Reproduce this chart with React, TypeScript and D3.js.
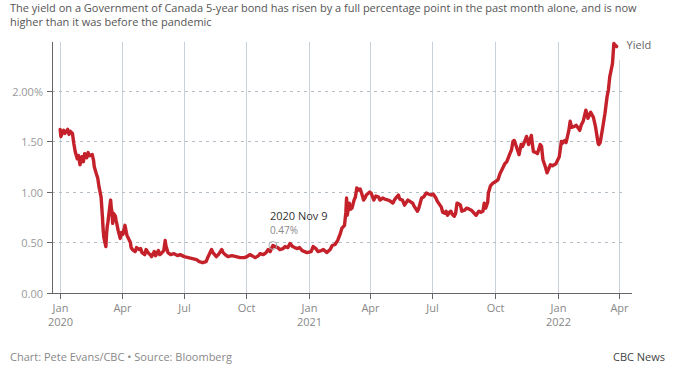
import React from 'react';
import * as d3 from 'd3';

const titleLines = [
  'The yield on a Government of Canada 5-year bond has risen by a full percentage point in the past month alone, and is now',
  'higher than it was before the pandemic',
];

const dates = [
  '2020-01-02', '2020-01-03', '2020-01-07', '2020-01-09', '2020-01-13', '2020-01-15', '2020-01-17', '2020-01-20',
  '2020-01-22', '2020-01-24', '2020-01-27', '2020-01-29', '2020-01-31', '2020-02-03', '2020-02-05', '2020-02-07',
  '2020-02-10', '2020-02-12', '2020-02-14', '2020-02-18', '2020-02-20', '2020-02-21', '2020-02-24', '2020-02-26',
  '2020-02-28', '2020-03-02', '2020-03-03', '2020-03-04', '2020-03-05', '2020-03-06', '2020-03-09', '2020-03-10',
  '2020-03-11', '2020-03-12', '2020-03-16', '2020-03-17', '2020-03-18', '2020-03-19', '2020-03-20', '2020-03-23',
  '2020-03-24', '2020-03-27', '2020-03-30', '2020-04-01', '2020-04-03', '2020-04-06', '2020-04-08', '2020-04-09',
  '2020-04-14', '2020-04-15', '2020-04-17', '2020-04-21', '2020-04-23', '2020-04-27', '2020-04-29', '2020-05-01',
  '2020-05-05', '2020-05-07', '2020-05-11', '2020-05-13', '2020-05-15', '2020-05-19', '2020-05-21', '2020-05-25',
  '2020-05-27', '2020-05-29', '2020-06-02', '2020-06-04', '2020-06-05', '2020-06-08', '2020-06-12', '2020-06-17',
  '2020-06-22', '2020-06-26', '2020-07-02', '2020-07-08', '2020-07-14', '2020-07-20', '2020-07-24', '2020-07-29',
  '2020-08-03', '2020-08-06', '2020-08-11', '2020-08-13', '2020-08-18', '2020-08-21', '2020-08-26', '2020-08-28',
  '2020-08-31', '2020-09-04', '2020-09-10', '2020-09-16', '2020-09-22', '2020-09-28', '2020-10-02', '2020-10-06',
  '2020-10-09', '2020-10-14', '2020-10-19', '2020-10-21', '2020-10-26', '2020-10-30', '2020-11-02', '2020-11-05',
  '2020-11-09', '2020-11-12', '2020-11-16', '2020-11-19', '2020-11-24', '2020-11-27', '2020-12-01', '2020-12-04',
  '2020-12-08', '2020-12-11', '2020-12-15', '2020-12-18', '2020-12-22', '2020-12-29', '2021-01-04', '2021-01-07',
  '2021-01-11', '2021-01-14', '2021-01-19', '2021-01-22', '2021-01-27', '2021-02-01', '2021-02-04', '2021-02-08',
  '2021-02-10', '2021-02-12', '2021-02-16', '2021-02-18', '2021-02-22', '2021-02-24', '2021-02-25', '2021-02-26',
  '2021-03-01', '2021-03-03', '2021-03-05', '2021-03-08', '2021-03-10', '2021-03-12', '2021-03-15', '2021-03-17',
  '2021-03-19', '2021-03-22', '2021-03-24', '2021-03-26', '2021-03-31', '2021-04-02', '2021-04-06', '2021-04-09',
  '2021-04-13', '2021-04-15', '2021-04-19', '2021-04-22', '2021-04-27', '2021-04-30', '2021-05-04', '2021-05-07',
  '2021-05-12', '2021-05-14', '2021-05-18', '2021-05-21', '2021-05-26', '2021-05-28', '2021-06-02', '2021-06-04',
  '2021-06-09', '2021-06-11', '2021-06-15', '2021-06-18', '2021-06-22', '2021-06-25', '2021-06-29', '2021-07-02',
  '2021-07-06', '2021-07-08', '2021-07-12', '2021-07-14', '2021-07-16', '2021-07-19', '2021-07-21', '2021-07-23',
  '2021-07-26', '2021-07-28', '2021-07-30', '2021-08-02', '2021-08-04', '2021-08-06', '2021-08-09', '2021-08-11',
  '2021-08-13', '2021-08-17', '2021-08-20', '2021-08-24', '2021-08-27', '2021-08-31', '2021-09-03', '2021-09-07',
  '2021-09-10', '2021-09-13', '2021-09-15', '2021-09-17', '2021-09-20', '2021-09-21', '2021-09-24', '2021-09-28',
  '2021-10-01', '2021-10-05', '2021-10-08', '2021-10-13', '2021-10-15', '2021-10-18', '2021-10-22', '2021-10-25',
  '2021-10-27', '2021-10-29', '2021-11-01', '2021-11-05', '2021-11-08', '2021-11-10', '2021-11-12', '2021-11-16',
  '2021-11-19', '2021-11-23', '2021-11-26', '2021-11-30', '2021-12-02', '2021-12-06', '2021-12-08', '2021-12-10',
  '2021-12-14', '2021-12-16', '2021-12-21', '2021-12-24', '2021-12-29', '2022-01-03', '2022-01-06', '2022-01-07',
  '2022-01-11', '2022-01-13', '2022-01-17', '2022-01-19', '2022-01-21', '2022-01-25', '2022-01-28', '2022-02-02',
  '2022-02-04', '2022-02-07', '2022-02-11', '2022-02-14', '2022-02-18', '2022-02-22', '2022-02-25', '2022-03-01',
  '2022-03-02', '2022-03-04', '2022-03-08', '2022-03-11', '2022-03-14', '2022-03-16', '2022-03-18', '2022-03-22',
  '2022-03-24', '2022-03-25', '2022-03-28',
];

const yields = [
  1.62, 1.55, 1.61, 1.58, 1.62, 1.57, 1.6, 1.58,
  1.48, 1.4, 1.33, 1.36, 1.27, 1.35, 1.3, 1.38,
  1.34, 1.39, 1.36, 1.37, 1.31, 1.25, 1.18, 1.14,
  1.05, 0.95, 0.85, 0.75, 0.63, 0.55, 0.46, 0.58,
  0.66, 0.7, 0.92, 0.84, 0.8, 0.69, 0.79, 0.76,
  0.72, 0.62, 0.54, 0.6, 0.58, 0.67, 0.6, 0.57,
  0.5, 0.45, 0.43, 0.41, 0.45, 0.43, 0.44, 0.4,
  0.38, 0.43, 0.39, 0.38, 0.36, 0.41, 0.37, 0.42,
  0.38, 0.39, 0.42, 0.52, 0.47, 0.4, 0.38, 0.39,
  0.37, 0.38, 0.36, 0.35, 0.34, 0.33, 0.31, 0.3,
  0.31, 0.36, 0.43, 0.4, 0.36, 0.38, 0.43, 0.4,
  0.38, 0.36, 0.37, 0.36, 0.35, 0.35, 0.36, 0.38,
  0.37, 0.35, 0.37, 0.39, 0.38, 0.4, 0.43, 0.41,
  0.47, 0.46, 0.45, 0.43, 0.44, 0.46, 0.45, 0.49,
  0.46, 0.45, 0.44, 0.45, 0.42, 0.4, 0.41, 0.46,
  0.44, 0.41, 0.42, 0.43, 0.4, 0.43, 0.47, 0.48,
  0.5, 0.52, 0.59, 0.64, 0.67, 0.8, 0.94, 0.77,
  0.89, 0.83, 0.84, 0.92, 0.95, 1.04, 1.02, 1.03,
  0.99, 0.92, 0.94, 0.97, 1.0, 0.99, 0.92, 0.96,
  0.95, 0.92, 0.94, 0.93, 0.92, 0.91, 0.89, 0.93,
  0.97, 0.93, 0.92, 0.87, 0.92, 0.91, 0.89, 0.86,
  0.81, 0.84, 0.94, 0.95, 0.99, 0.98, 0.97, 0.98,
  0.94, 0.91, 0.87, 0.85, 0.8, 0.79, 0.81, 0.77,
  0.8, 0.81, 0.78, 0.76, 0.79, 0.89, 0.88, 0.87,
  0.81, 0.82, 0.84, 0.83, 0.82, 0.79, 0.77, 0.81,
  0.8, 0.81, 0.89, 0.84, 0.9, 0.99, 1.06, 1.09,
  1.1, 1.12, 1.18, 1.25, 1.28, 1.3, 1.37, 1.42,
  1.5, 1.51, 1.45, 1.37, 1.47, 1.45, 1.48, 1.55,
  1.47, 1.56, 1.4, 1.39, 1.38, 1.47, 1.45, 1.32,
  1.24, 1.19, 1.27, 1.26, 1.28, 1.35, 1.5, 1.48,
  1.51, 1.49, 1.61, 1.7, 1.64, 1.65, 1.66, 1.61,
  1.66, 1.7, 1.81, 1.73, 1.79, 1.74, 1.65, 1.48,
  1.47, 1.49, 1.65, 1.78, 1.94, 2.01, 2.14, 2.27,
  2.47, 2.46, 2.44,
];

const xTicks = ['2020-01-01', '2020-04-01', '2020-07-01', '2020-10-01', '2021-01-01', '2021-04-01', '2021-07-01', '2021-10-01', '2022-01-01', '2022-04-01'];
const yTicks = [0, 0.5, 1, 1.5, 2];

const annotation = { date: '2020-11-09', value: 0.47, title: '2020 Nov 9', label: '0.47%' };

const FONT = '"Open Sans", Roboto, sans-serif';

export default function App() {
  const width = 684;
  const height = 369;
  const parse = d3.utcParse('%Y-%m-%d');
  const data = dates.map((d, i) => ({ date: parse(d) as Date, value: yields[i] }));

  const x = d3.scaleUtc()
    .domain([parse('2020-01-01') as Date, parse('2022-04-01') as Date])
    .range([59.5, 619.3]);
  const y = d3.scaleLinear().domain([0, 2.485]).range([293, 42]);

  const axisLeft = 52;
  const axisRight = 632;
  const gridRight = 625;

  const line = d3.line<{ date: Date; value: number }>()
    .x(d => x(d.date))
    .y(d => y(d.value))
    .curve(d3.curveLinear);

  const monthFmt = d3.utcFormat('%b');
  const yearFmt = d3.utcFormat('%Y');
  const aDate = parse(annotation.date) as Date;
  const last = data[data.length - 1];

  return (
    <svg width={width} height={height} style={{ position: 'absolute', left: 0, top: 0, background: '#fff' }}
      fontFamily={FONT}>
      {titleLines.map((t, i) => (
        <text key={i} x={10} y={12 + i * 14} fontSize={11} fill="#555">{t}</text>
      ))}

      {/* vertical grid + x ticks */}
      {xTicks.map(t => {
        const d = parse(t) as Date;
        const xp = Math.round(x(d)) + 0.5;
        return (
          <g key={t}>
            <line x1={xp} x2={xp} y1={y.range()[1]} y2={293} stroke="#c9d2da" strokeWidth={1} />
            <line x1={xp} x2={xp} y1={293} y2={299} stroke="#666" strokeWidth={1} />
            <text x={xp} y={312} fontSize={11} fill="#888" textAnchor="middle">{monthFmt(d)}</text>
            {d.getUTCMonth() === 0 && (
              <text x={xp} y={326} fontSize={11} fill="#888" textAnchor="middle">{yearFmt(d)}</text>
            )}
          </g>
        );
      })}

      {/* horizontal dashed grid + y ticks */}
      {yTicks.map(v => {
        const yp = Math.round(y(v)) + 0.5;
        return (
          <g key={v}>
            {v > 0 && (
              <line x1={axisLeft} x2={gridRight} y1={yp} y2={yp} stroke="#b4bec8" strokeWidth={1} strokeDasharray="3,4" />
            )}
            <line x1={axisLeft - 5} x2={axisLeft} y1={yp} y2={yp} stroke="#666" strokeWidth={1} />
            <text x={axisLeft - 9} y={yp + 4} fontSize={11} fill="#999" textAnchor="end">
              {v === 2 ? '2.00%' : v.toFixed(2)}
            </text>
          </g>
        );
      })}

      {/* label halo */}
      <rect x={614} y={42} width={50} height={18} fill="#fff" />

      {/* axes */}
      <line x1={axisLeft + 0.5} x2={axisLeft + 0.5} y1={y.range()[1]} y2={293.5} stroke="#666" strokeWidth={1} />
      <line x1={axisLeft} x2={axisRight} y1={293.5} y2={293.5} stroke="#666" strokeWidth={1} />

      <path d={line(data) || ''} fill="none" stroke="#c4212b" strokeWidth={3.4} strokeLinejoin="round" strokeLinecap="round" />

      <text x={x(last.date) + 10} y={y(2.42)} fontSize={11} fill="#666">Yield</text>

      {/* annotation */}
      <circle cx={x(aDate)} cy={y(annotation.value)} r={4} fill="none" stroke="#aaa" strokeWidth={1} />
      <text x={x(aDate) - 3} y={220} fontSize={11} fill="#333">{annotation.title}</text>
      <text x={x(aDate) - 3} y={234} fontSize={10} fill="#888">{annotation.label}</text>

      <text x={10} y={361} fontSize={11} fill="#888">Chart: Pete Evans/CBC • Source: Bloomberg</text>
      <text x={665} y={361} fontSize={11} fill="#444" textAnchor="end">CBC News</text>
    </svg>
  );
}
